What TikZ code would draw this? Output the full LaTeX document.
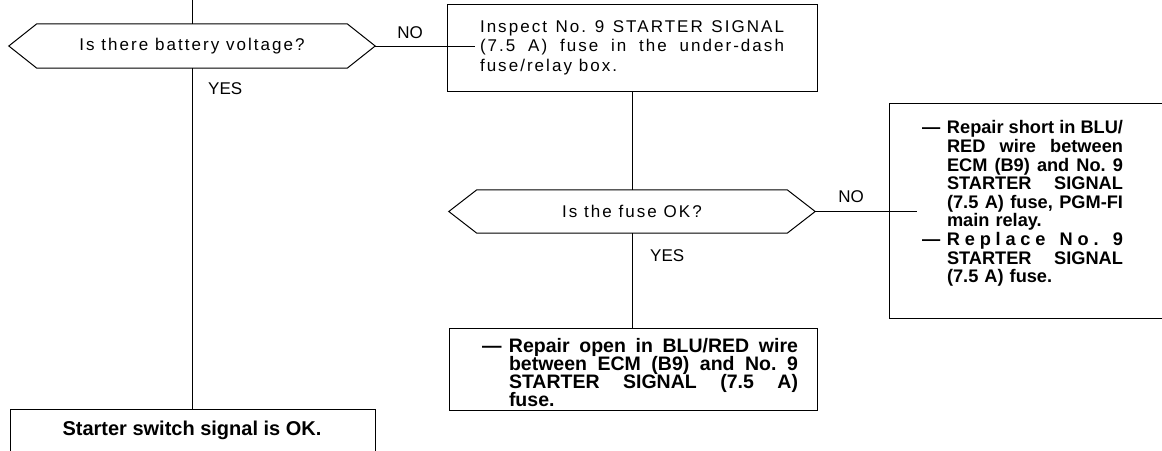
\documentclass[tikz,border=0pt]{standalone}
\usepackage{fontspec}
\setmainfont{Liberation Sans}
\newfontfamily\qfont[LetterSpace=12]{Liberation Sans}
\newlength\dw
\setlength\dw{27pt}
\newcommand\jbox[2]{\makebox[#1][s]{\frenchspacing\spaceskip=0.25em plus 1fil\relax #2}}
\newcommand\dashline[2]{\makebox[\dw][l]{—}\jbox{#1}{#2}}
\newcommand\contline[2]{\hspace*{\dw}\jbox{#1}{#2}}
\newcommand\lastln[1]{\hspace*{\dw}#1}
\newcommand\hexframe[1]{\draw[line] ([xshift=-28pt]#1.west) -- (#1.north west) -- (#1.north east) -- ([xshift=28pt]#1.east) -- (#1.south east) -- (#1.south west) -- cycle;}
\begin{document}
\begin{tikzpicture}[x=1pt,y=-1pt,
  line/.style={line width=1pt},
  box/.style={draw, line width=1pt, rectangle, inner sep=0pt},
  qtext/.style={font=\qfont\fontsize{17}{19.5}\selectfont},
  btext/.style={font=\bfseries\fontsize{19.5}{18.3}\selectfont, align=left, inner sep=0pt},
  btextr/.style={font=\bfseries\fontsize{18.2}{18.6}\selectfont, align=left, inner sep=0pt},
  hexq/.style={rectangle, minimum width=310pt, minimum height=44pt, inner sep=0pt, qtext},
  lab/.style={font=\fontsize{17}{19}\selectfont, inner sep=0pt}]
\useasboundingbox (0,0) rectangle (1162,450);

% decision 1
\node[hexq] (q1) at (192,46) {Is there battery voltage?};
\hexframe{q1}
\coordinate (top) at (192,0);

% inspect box
\node[box, qtext, minimum width=370pt, minimum height=87pt, align=left] (b1) at (632,47.5)
  {\jbox{304pt}{Inspect No. 9 STARTER SIGNAL}\\
   \jbox{304pt}{(7.5 A) fuse in the under-dash}\\
   \makebox[304pt][l]{fuse/relay box.}};

% decision 2
\node[hexq, minimum height=43pt] (q2) at (632,211.5) {Is the fuse OK?};
\hexframe{q2}

% right box (cut by the page edge)
\node[box, anchor=north west, minimum width=300pt, minimum height=215pt] (r1) at (889,103) {};
\node[btextr, text width=201pt] (r1t) at (1022.5,203.5)
  {\setlength\dw{25pt}%
   \dashline{176pt}{Repair short in BLU/}\\
   \contline{176pt}{RED wire between}\\
   \contline{176pt}{ECM (B9) and No. 9}\\
   \contline{176pt}{STARTER SIGNAL}\\
   \contline{176pt}{(7.5 A) fuse, PGM-FI}\\
   \lastln{main relay.}\\
   \dashline{176pt}{R\hfil e\hfil p\hfil l\hfil a\hfil c\hfil e\hfil\hfil\hfil N\hfil o\hfil .\hfil\hfil\hfil 9}\\
   \contline{176pt}{STARTER SIGNAL}\\
   \lastln{(7.5 A) fuse.}};

% repair open box
\node[box, minimum width=368pt, minimum height=82pt] (r2) at (633,369) {};
\node[btext, text width=316pt] (r2t) at (640,372.5)
  {\dashline{289pt}{Repair open in BLU/RED wire}\\
   \contline{289pt}{between ECM (B9) and No. 9}\\
   \contline{289pt}{STARTER SIGNAL (7.5 A)}\\
   \lastln{fuse.}};

% OK box (cut by the page edge)
\node[box, anchor=north west, minimum width=365pt, minimum height=70pt] (ok) at (10,409) {};
\node[font=\bfseries\fontsize{20}{22}\selectfont, inner sep=0pt] (okt) at (192,430) {Starter switch signal is OK.};

% labels
\node[lab] (no1) at (410,33) {NO};
\node[lab, anchor=west] (yes1) at (208,89) {YES};
\node[lab] (no2) at (851,197) {NO};
\node[lab, anchor=west] (yes2) at (650,256) {YES};

% connectors
\draw[line] (top) -- (q1.north);
\draw[line] (q1.south) -- (q1.south |- ok.north);
\draw[line] ([xshift=28pt]q1.east) -- ([xshift=28pt]q1.east -| b1.west);
\draw[line] (b1.south) -- (q2.north);
\draw[line] (q2.south) -- (q2.south |- r2.north);
\draw[line] ([xshift=28pt]q2.east) -- ([xshift=28pt]q2.east -| r1.west);
\end{tikzpicture}
\end{document}
